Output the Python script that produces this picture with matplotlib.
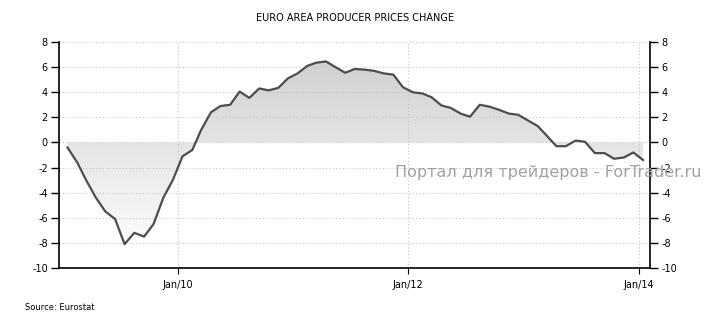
import numpy as np
import pandas as pd
import matplotlib
matplotlib.use('Agg')
import matplotlib.pyplot as plt
import matplotlib.dates as mdates
from matplotlib.colors import LinearSegmentedColormap
from matplotlib.patches import PathPatch
from matplotlib.path import Path

# Monthly year-on-year change, Jan 2009 - Jan 2014 (points sit mid-month)
months = pd.date_range('2009-01-01', '2014-01-01', freq='MS') + pd.Timedelta(days=14)
ppi_change = [
    -0.4, -1.6, -3.0, -4.4, -5.5, -6.1, -8.1, -7.2, -7.5, -6.5, -4.4, -3.0,
    -1.1, -0.6, 1.0, 2.4, 2.9, 3.0, 4.05, 3.55, 4.3, 4.15, 4.35, 5.1,
    5.5, 6.1, 6.35, 6.45, 6.0, 5.55, 5.85, 5.8, 5.7, 5.5, 5.4, 4.4,
    4.0, 3.9, 3.6, 2.95, 2.75, 2.3, 2.05, 3.0, 2.85, 2.6, 2.3, 2.2,
    1.75, 1.3, 0.55, -0.3, -0.3, 0.15, 0.05, -0.85, -0.85, -1.3, -1.2, -0.8,
    -1.4,
]
tick_years = [2010, 2012, 2014]
tick_labels = ['Jan/10', 'Jan/12', 'Jan/14']
y_ticks = list(range(-10, 9, 2))

x = mdates.date2num(months)
y = np.array(ppi_change)

fig = plt.figure(figsize=(7.1, 3.25), dpi=100)
ax = fig.add_axes([59 / 710, 57 / 325, 591 / 710, 226 / 325])

xmin = mdates.date2num(pd.Timestamp('2008-12-19'))
xmax = mdates.date2num(pd.Timestamp('2014-02-06'))

# gradient fill between the series and zero
fill = ax.fill_between(x, y, 0, interpolate=True, color='none', lw=0)
clip_path = Path.make_compound_path(*fill.get_paths())
clip_patch = PathPatch(clip_path, transform=ax.transData, facecolor='none', edgecolor='none')
ax.add_patch(clip_patch)
cmap = LinearSegmentedColormap.from_list('fade', ['#ffffff', '#cfcfcf'])
grad = np.linspace(0, 1, 256).reshape(-1, 1)
im = ax.imshow(grad, extent=[xmin, xmax, -9, 7], origin='lower', aspect='auto',
               cmap=cmap, zorder=1, interpolation='bicubic')
im.set_clip_path(clip_patch)

ax.plot(x, y, color='#4d4d4d', lw=1.6, zorder=4, solid_joinstyle='round')

ax.set_xlim(xmin, xmax)
ax.set_ylim(-10, 8)

tick_pos = [mdates.date2num(pd.Timestamp(f'{yr}-01-01')) for yr in tick_years]
ax.set_xticks(tick_pos)
ax.set_xticklabels(tick_labels)
ax.set_yticks(y_ticks)
ax.set_yticklabels([str(v) for v in y_ticks])

ax.grid(True, color='#c4c4c4', linestyle=(0, (1, 2)), lw=0.8, zorder=2)
ax.set_axisbelow(False)
for line in ax.get_xgridlines() + ax.get_ygridlines():
    line.set_zorder(2)

ax.spines['top'].set_visible(False)
for side in ['left', 'right', 'bottom']:
    ax.spines[side].set_color('black')
    ax.spines[side].set_linewidth(1.2)
    ax.spines[side].set_zorder(5)

ax.tick_params(axis='y', which='both', left=True, right=True, labelleft=True,
               labelright=True, length=6, width=1, pad=2, labelsize=7, colors='black')
ax.tick_params(axis='x', length=4, width=0.8, pad=5, labelsize=7, colors='black')

fig.text(0.5, 1 - 18 / 325, 'EURO AREA PRODUCER PRICES CHANGE', ha='center', va='center',
         fontsize=7, color='black')
fig.text(25 / 710, 1 - 307 / 325, 'Source: Eurostat', ha='left', va='center',
         fontsize=6, color='black')
fig.text(548 / 710, 1 - 173 / 325, 'Портал для трейдеров - ForTrader.ru', ha='center',
         va='center', fontsize=11.5, color='#a89e9e', zorder=10)

fig.savefig('out.png', dpi=100)
